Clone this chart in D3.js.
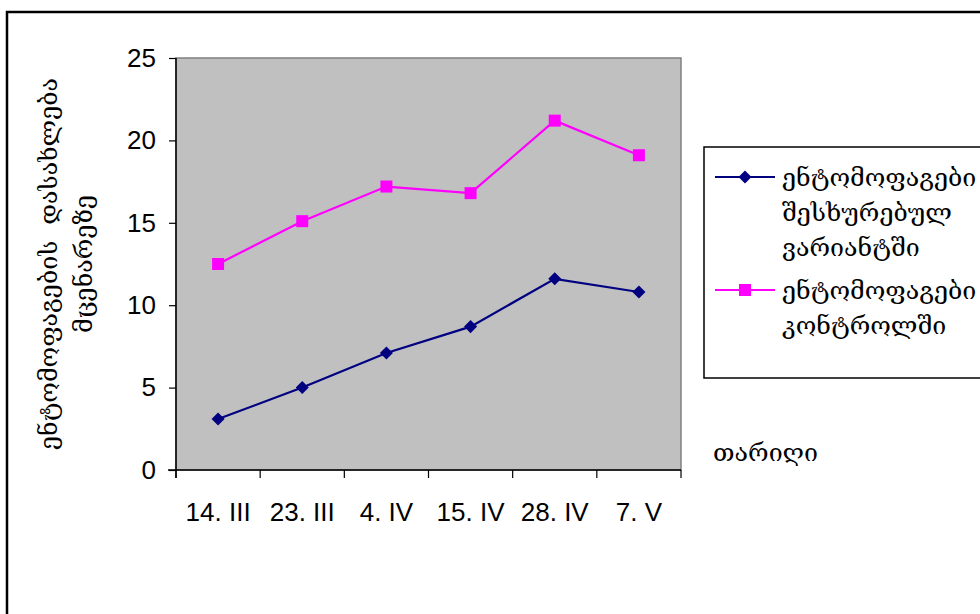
<!DOCTYPE html>
<html>
<head>
<meta charset="utf-8">
<script src="https://cdn.jsdelivr.net/npm/d3@7"></script>
<style>
  html, body { margin: 0; padding: 0; background: #fff; }
  svg { display: block; }
</style>
</head>
<body>
<svg id="chart" width="980" height="614"></svg>
<script>
// Sampling dates and insect counts for the two plots
const dates = ["14. III", "23. III", "4. IV", "15. IV", "28. IV", "7. V"];
const treated = [3.1, 5.0, 7.1, 8.7, 11.6, 10.8];
const control = [12.5, 15.1, 17.2, 16.8, 21.2, 19.1];
const yTicks = [0, 5, 10, 15, 20, 25];
const seriesNames = [
  ["ენტომოფაგები", "შესხურებულ", "ვარიანტში"],
  ["ენტომოფაგები", "კონტროლში"]
];
const yTitle = ["ენტომოფაგების  დასახლება", "მცენარეზე"];
const xTitle = "თარიღი";

const svg = d3.select("#chart");
const geoFont = "'DejaVu Serif', 'DejaVu Sans', serif";
const numFont = "'Liberation Sans', Arial, sans-serif";
const geoSize = 25;
const numSize = 26;

const plot = { left: 176, right: 681, top: 58, bottom: 470 };

const x = d3.scaleBand().domain(dates).range([plot.left, plot.right]).padding(0);
const y = d3.scaleLinear().domain([0, 25]).range([plot.bottom, plot.top]);

// outer frame
svg.append("rect")
  .attr("x", 7).attr("y", 12)
  .attr("width", 990).attr("height", 620)
  .attr("fill", "none").attr("stroke", "#000").attr("stroke-width", 2.5);

// plot area
svg.append("rect")
  .attr("x", plot.left).attr("y", plot.top)
  .attr("width", plot.right - plot.left).attr("height", plot.bottom - plot.top)
  .attr("fill", "#c0c0c0").attr("stroke", "#808080").attr("stroke-width", 1.5);

// y axis
const yAxis = d3.axisLeft(y).tickValues(yTicks).tickSize(7).tickPadding(13).tickSizeOuter(0);
const gy = svg.append("g").attr("transform", `translate(${plot.left},0)`).call(yAxis);
gy.select(".domain").attr("stroke", "#000").attr("stroke-width", 1.5)
  .attr("d", `M0,${plot.top}V${plot.bottom + 8}`);
gy.selectAll(".tick line").attr("stroke", "#000").attr("stroke-width", 1.2);
gy.selectAll(".tick text").attr("font-family", numFont).attr("font-size", numSize).attr("fill", "#000");

// x axis: labels centred in bands, ticks on band boundaries
const xAxis = d3.axisBottom(x).tickSize(0).tickPadding(0).tickSizeOuter(0);
const gx = svg.append("g").attr("transform", `translate(0,${plot.bottom})`).call(xAxis);
gx.select(".domain").attr("stroke", "#000").attr("stroke-width", 1.5)
  .attr("d", `M${plot.left - 8},0H${plot.right}`);
gx.selectAll(".tick text")
  .attr("font-family", numFont).attr("font-size", numSize).attr("fill", "#000")
  .attr("dy", null).attr("y", 51);
const bounds = dates.map(d => x(d)).concat([x(dates[dates.length - 1]) + x.bandwidth()]);
gx.selectAll(".bound").data(bounds).enter().append("line")
  .attr("class", "bound")
  .attr("x1", d => d).attr("x2", d => d)
  .attr("y1", 0).attr("y2", 8)
  .attr("stroke", "#000").attr("stroke-width", 1.2);

// series
const cx = d => x(d) + x.bandwidth() / 2;
const line = d3.line().x((v, i) => cx(dates[i])).y(v => y(v));

svg.append("path").datum(treated)
  .attr("d", line).attr("fill", "none").attr("stroke", "#000080").attr("stroke-width", 2.2);
svg.append("path").datum(control)
  .attr("d", line).attr("fill", "none").attr("stroke", "#ff00ff").attr("stroke-width", 2.2);

const diamond = d3.symbol().type(d3.symbolSquare).size(85);
svg.selectAll(".dia").data(treated).enter().append("path")
  .attr("class", "dia")
  .attr("d", diamond)
  .attr("transform", (v, i) => `translate(${cx(dates[i])},${y(v)}) rotate(45)`)
  .attr("fill", "#000080");

svg.selectAll(".sq").data(control).enter().append("rect")
  .attr("class", "sq")
  .attr("x", (v, i) => cx(dates[i]) - 6).attr("y", v => y(v) - 6)
  .attr("width", 12).attr("height", 12)
  .attr("fill", "#ff00ff");

// y axis title
const yt = svg.append("text")
  .attr("transform", `translate(48,264) rotate(-90)`)
  .attr("font-family", geoFont).attr("font-size", geoSize).attr("fill", "#000")
  .attr("text-anchor", "middle");
yTitle.forEach((t, i) => {
  yt.append("tspan").attr("x", 0).attr("y", i * 35).attr("dy", "0.35em")
    .style("white-space", "pre").text(t);
});

// x axis title
svg.append("text")
  .attr("x", 713).attr("y", 452).attr("dy", "0.35em")
  .attr("font-family", geoFont).attr("font-size", geoSize).attr("fill", "#000")
  .text(xTitle);

// legend
svg.append("rect")
  .attr("x", 704).attr("y", 147).attr("width", 300).attr("height", 231)
  .attr("fill", "#fff").attr("stroke", "#000").attr("stroke-width", 1.5);

const legendRows = [
  { color: "#000080", y: 177, shape: "diamond", lines: seriesNames[0] },
  { color: "#ff00ff", y: 290, shape: "square", lines: seriesNames[1] }
];
legendRows.forEach(r => {
  svg.append("line")
    .attr("x1", 715).attr("x2", 775).attr("y1", r.y).attr("y2", r.y)
    .attr("stroke", r.color).attr("stroke-width", 2.2);
  if (r.shape === "diamond") {
    svg.append("path").attr("d", diamond)
      .attr("transform", `translate(745,${r.y}) rotate(45)`).attr("fill", r.color);
  } else {
    svg.append("rect").attr("x", 739).attr("y", r.y - 6)
      .attr("width", 12).attr("height", 12).attr("fill", r.color);
  }
  const t = svg.append("text")
    .attr("font-family", geoFont).attr("font-size", geoSize).attr("fill", "#000");
  r.lines.forEach((s, i) => {
    t.append("tspan").attr("x", 782).attr("y", r.y + i * 35).attr("dy", "0.35em").text(s);
  });
});
</script>
</body>
</html>
